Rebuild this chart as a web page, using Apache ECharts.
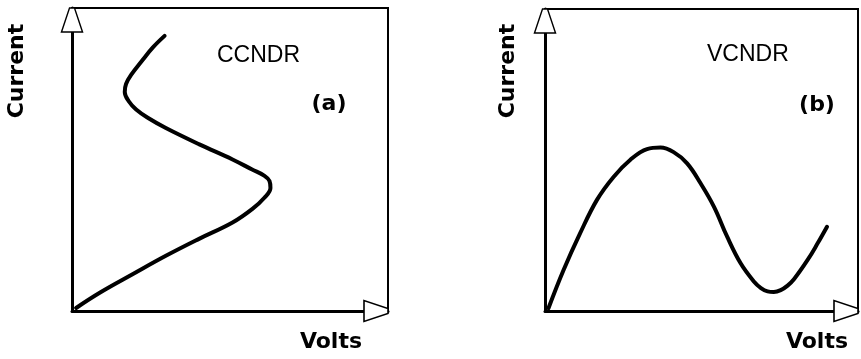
<!DOCTYPE html>
<html>
<head>
<meta charset="utf-8">
<script src="https://cdn.jsdelivr.net/npm/echarts@6/dist/echarts.min.js"></script>
<style>
  html, body { margin: 0; padding: 0; background: #fff; }
  #chart { width: 861px; height: 359px; }
</style>
</head>
<body>
<div id="chart"></div>
<script>
// (a) current-controlled NDR: S-shaped trace (volts fold back as current rises)
const voltsA   = [1.3, 8.9, 19.3, 29.7, 40.2, 50.8, 57.1, 60.8, 62.8, 62.5, 60.8, 57.0, 50.8, 40.3, 29.7, 24.1, 20.3, 17.9, 16.7, 17.1, 18.7, 22.4, 25.6, 29.3];
const currentA = [1.0, 6.1, 12.2, 18.2, 23.8, 29.2, 33.7, 37.3, 40.6, 42.9, 44.7, 46.7, 50.0, 55.0, 60.4, 63.7, 66.5, 69.3, 72.3, 74.9, 77.9, 82.9, 87.0, 90.8];

// (b) voltage-controlled NDR: N-shaped trace
const voltsB   = [1.1, 5.9, 11.2, 16.6, 21.9, 27.2, 32.6, 36.9, 41.1, 45.4, 49.7, 54.0, 58.2, 62.5, 66.8, 69.0, 71.1, 73.1, 75.3, 77.5, 79.6, 83.9, 87.1, 90.1];
const currentB = [0.9, 13.5, 25.7, 36.8, 44.4, 50.0, 53.6, 54.1, 52.6, 48.9, 42.3, 34.5, 24.6, 15.8, 9.7, 7.6, 6.5, 6.3, 6.9, 8.4, 10.6, 16.9, 22.4, 27.9];

const panelTitles = ['CCNDR', 'VCNDR'];
const panelTags = ['(a)', '(b)'];
const xName = 'Volts';
const yName = 'Current';
const axisMin = 0;
const axisMax = 100;

const zip = (xs, ys) => xs.map((x, i) => [x, ys[i]]);

// hollow axis arrow head (drawn pointing up, rotated for the x axis)
const arrowPath = 'path://M8 0 L13 0 L21 23 L0 23 Z';
const arrowMarks = {
  symbol: arrowPath,
  symbolSize: [21, 24],
  silent: true,
  label: { show: false },
  itemStyle: { color: '#fff', borderColor: '#000', borderWidth: 1.5 },
  data: [
    { coord: [axisMin, axisMax], symbolOffset: [0, 12] },
    { coord: [axisMax, axisMin], symbolRotate: -90, symbolOffset: [-12, 0] }
  ]
};

const grids = [
  { left: 72, top: 8, width: 316, height: 303 },
  { left: 545, top: 9, width: 313, height: 302 }
].map(g => Object.assign({
  show: true, borderColor: '#000', borderWidth: 2, backgroundColor: 'transparent',
  containLabel: false, outerBoundsMode: 'none'
}, g));

const nameFont = { fontFamily: 'DejaVu Sans', fontWeight: 'bold', fontSize: 22, color: '#000' };
const volGaps = [-26, -10];

const xAxes = [0, 1].map(i => ({
  type: 'value', gridIndex: i, min: axisMin, max: axisMax,
  axisLine: { show: true, onZero: false, lineStyle: { color: '#000', width: 3 } },
  axisTick: { show: false }, axisLabel: { show: false }, splitLine: { show: false },
  name: xName, nameLocation: 'end', nameGap: volGaps[i],
  nameTextStyle: Object.assign({ align: 'right', verticalAlign: 'top', padding: [20, 0, 0, 0] }, nameFont)
}));

const yAxes = [0, 1].map(i => ({
  type: 'value', gridIndex: i, min: axisMin, max: axisMax,
  axisLine: { show: true, onZero: false, lineStyle: { color: '#000', width: 3 } },
  axisTick: { show: false }, axisLabel: { show: false }, splitLine: { show: false }
}));

const curveStyle = { color: '#000', width: 4, cap: 'round', join: 'round' };

const series = [
  { data: zip(voltsA, currentA) },
  { data: zip(voltsB, currentB) }
].map((s, i) => ({
  type: 'line', xAxisIndex: i, yAxisIndex: i, data: s.data,
  smooth: 0.4, showSymbol: false, symbol: 'none',
  lineStyle: curveStyle, markPoint: arrowMarks, z: 3
}));

const textStyle = (t, extra) => Object.assign({ text: t, fill: '#000' }, extra);
const boldFace = { fontFamily: 'DejaVu Sans', fontWeight: 'bold', fontSize: 22, align: 'center', verticalAlign: 'middle' };
const titleFace = { fontFamily: 'Liberation Sans', fontSize: 23, align: 'left', verticalAlign: 'middle' };

const graphic = [
  { type: 'text', x: 17, y: 71, rotation: Math.PI / 2, style: textStyle(yName, boldFace) },
  { type: 'text', x: 508, y: 71, rotation: Math.PI / 2, style: textStyle(yName, boldFace) },
  { type: 'text', x: 217, y: 56, style: textStyle(panelTitles[0], titleFace) },
  { type: 'text', x: 707, y: 55, style: textStyle(panelTitles[1], titleFace) },
  { type: 'text', x: 329, y: 104, style: textStyle(panelTags[0], boldFace) },
  { type: 'text', x: 817, y: 105, style: textStyle(panelTags[1], boldFace) }
];

const chart = echarts.init(document.getElementById('chart'), null, { renderer: 'canvas' });
chart.setOption({
  animation: false,
  backgroundColor: '#fff',
  grid: grids,
  xAxis: xAxes,
  yAxis: yAxes,
  series: series,
  graphic: graphic
});
</script>
</body>
</html>
